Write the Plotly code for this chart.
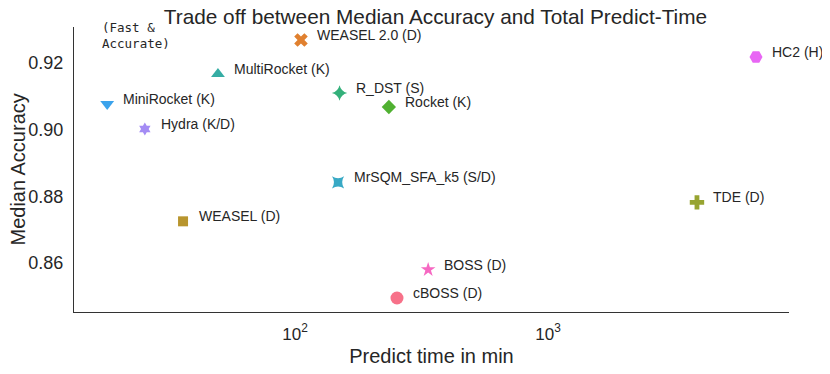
import math
import plotly.graph_objects as go

names = ["cBOSS (D)", "WEASEL 2.0 (D)", "WEASEL (D)", "TDE (D)", "Rocket (K)", "R_DST (S)",
         "MultiRocket (K)", "MrSQM_SFA_k5 (S/D)", "MiniRocket (K)", "Hydra (K/D)", "HC2 (H)", "BOSS (D)"]
predict_time = [253, 105.6, 36.1, 3880, 235, 150, 49.6, 148, 18.1, 25.5, 6640, 336]
accuracy = [0.8495, 0.9269, 0.8725, 0.8782, 0.9068, 0.911, 0.9167, 0.8842, 0.9077, 0.9002, 0.9218, 0.858]
colors = ["#f77189", "#e0802f", "#b8952e", "#97a431", "#50b131", "#33b07a",
          "#36ada4", "#38a9c5", "#3ba3ec", "#a48cf4", "#e866f4", "#f668c2"]
symbols = ["circle", "x", "square", "cross", "diamond", "star-diamond",
           "triangle-up", "star-square", "triangle-down", "hexagram", "hexagon2", "star"]
sizes = [13, 12, 10, 12, 11, 11, 12, 11, 12, 10, 13, 11]

fig = go.Figure()
for n, x, y, c, s, sz in zip(names, predict_time, accuracy, colors, symbols, sizes):
    fig.add_trace(go.Scatter(x=[x], y=[y], mode="markers", name=n, showlegend=False,
                             marker=dict(color=c, symbol=s, size=sz, line=dict(width=0))))
    fig.add_annotation(x=math.log10(x), y=y, xref="x", yref="y", text=n, showarrow=False,
                       xanchor="left", yanchor="middle", xshift=14, yshift=5,
                       font=dict(family="Liberation Sans, Arial", size=14, color="#262626"))

fig.add_annotation(xref="paper", yref="paper", x=0.036, y=1.03, text="(Fast &<br>Accurate)",
                   showarrow=False, xanchor="left", yanchor="top", align="left",
                   font=dict(family="DejaVu Sans Mono, monospace", size=12.5, color="#262626"))

# y-axis title placed as rotated text
fig.add_annotation(xref="paper", yref="paper", x=-0.0797, y=0.5, text="Median Accuracy",
                   textangle=-90, showarrow=False, xanchor="center", yanchor="middle",
                   font=dict(family="Liberation Sans, Arial", size=20, color="#262626"))

fig.update_layout(
    width=830, height=374,
    margin=dict(l=66, r=49, t=19, b=70),
    paper_bgcolor="white", plot_bgcolor="white",
    title=dict(text="Trade off between Median Accuracy and Total Predict-Time",
               x=0.515, xanchor="center", y=0.976, yanchor="middle",
               font=dict(family="Liberation Sans, Arial", size=20.8, color="#262626")),
    font=dict(family="Liberation Sans, Arial", color="#262626"),
)
fig.update_xaxes(type="log", range=[1.1265, 3.9526], tickvals=[100, 1000],
                 ticktext=["10<sup>2</sup>", "10<sup>3</sup>"], automargin=False,
                 showgrid=False, zeroline=False, showline=True, linecolor="#333333", linewidth=1.25,
                 ticks="", tickfont=dict(size=17), ticklabelstandoff=6,
                 title=dict(text="Predict time in min", font=dict(size=20), standoff=6))
fig.update_yaxes(range=[0.8453, 0.9308], tickvals=[0.86, 0.88, 0.90, 0.92],
                 ticktext=["0.86", "0.88", "0.90", "0.92"], automargin=False,
                 showgrid=False, zeroline=False, showline=True, linecolor="#333333", linewidth=1.25,
                 ticks="", tickfont=dict(size=18), ticklabelstandoff=6)

fig.write_html("out.html")
